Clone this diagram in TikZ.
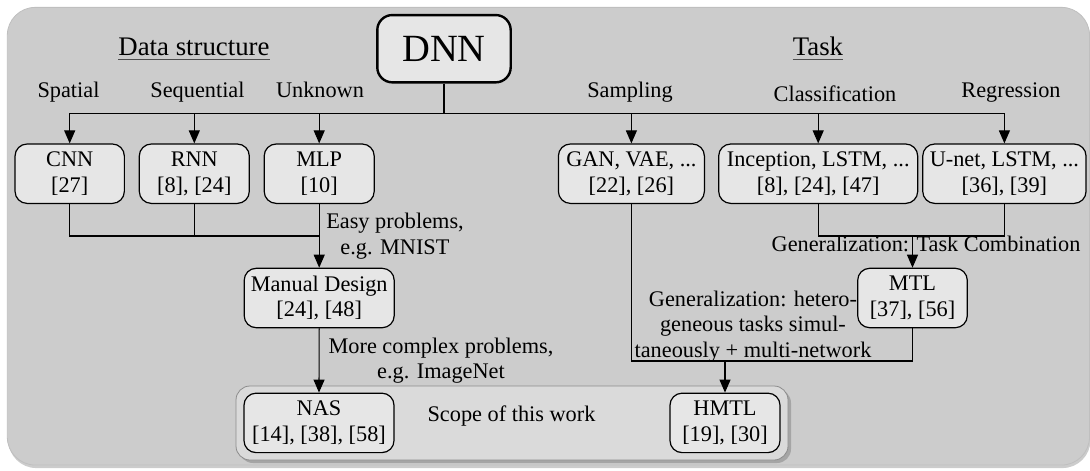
\documentclass[tikz,border=0pt]{standalone}
\usepackage{fontspec}
\setmainfont{Liberation Serif}
\usetikzlibrary{arrows.meta,shadows}
\definecolor{bggray}{HTML}{CCCCCC}
\definecolor{boxgray}{HTML}{E6E6E6}
\definecolor{scopegray}{HTML}{DADADA}
\begin{document}
\begin{tikzpicture}[x=1pt,y=-1pt,
  every node/.style={font=\fontsize{22.3}{25.6}\selectfont, inner sep=0pt},
  box/.style={draw, fill=boxgray, rounded corners=12pt, line width=1.2pt, align=center, minimum height=59.4pt},
  lbl/.style={anchor=base},
  head/.style={anchor=base, font=\fontsize{26.8}{30}\selectfont},
  wire/.style={line width=1.1pt},
  arr/.style={wire, -{Triangle[length=13pt,width=11pt]}},
  uline/.style={line width=1.3pt, black!70},
]
\useasboundingbox (0,0) rectangle (1090,471);

% background panels
\node[fill=bggray, draw=black!25, line width=0.8pt, rounded corners=28pt,
      minimum width=1082.2pt, minimum height=457.7pt,
      drop shadow={shadow xshift=1pt, shadow yshift=-3pt, opacity=0.4}] (bg) at (548.4,236.2) {};
\node[fill=scopegray, draw=black!45, line width=0.8pt, rounded corners=14pt,
      minimum width=552pt, minimum height=74pt,
      drop shadow={shadow xshift=3pt, shadow yshift=-3pt, opacity=0.5}] (scope) at (512,423) {};

% root
\node[draw, fill=boxgray, rounded corners=15pt, line width=2.4pt,
      minimum width=133.4pt, minimum height=67.3pt,
      font=\fontsize{38.5}{44}\selectfont] (dnn) at (444,48.7) {DNN};

% headings
\node[head] (ds) at (194,55) {Data structure};
\draw[uline] ([yshift=-4.3pt]ds.base west) -- ([yshift=-4.3pt]ds.base east);
\node[head] (task) at (818,55) {Task};
\draw[uline] ([yshift=-4.3pt]task.base west) -- ([yshift=-4.3pt]task.base east);

% categories
\node[lbl] (spatial) at (68.5,97.3) {Spatial};
\node[lbl] (sequential) at (197.5,97.3) {Sequential};
\node[lbl] (unknown) at (320,97.3) {Unknown};
\node[lbl] (sampling) at (630,97) {Sampling};
\node[lbl] (classif) at (835,101) {Classification};
\node[lbl] (regress) at (1011,97) {Regression};

% boxes
\node[box, minimum width=109.3pt] (cnn) at (69.7,173.7) {CNN\\{[27]}};
\node[box, minimum width=110pt] (rnn) at (194.3,173.7) {RNN\\{[8], [24]}};
\node[box, minimum width=110pt] (mlp) at (319.2,173.7) {MLP\\{[10]}};
\node[box, minimum width=146pt] (gan) at (631.4,173.7) {GAN, VAE, ...\\{[22], [26]}};
\node[box, minimum width=199pt] (incep) at (818.2,173.7) {Inception, LSTM, ...\\{[8], [24], [47]}};
\node[box, minimum width=163.3pt] (unet) at (1004.4,173.7) {U-net, LSTM, ...\\{[36], [39]}};
\node[box, minimum width=150pt] (manual) at (319.2,298) {Manual Design\\{[24], [48]}};
\node[box, minimum width=109.6pt] (mtl) at (912.5,298) {MTL\\{[37], [56]}};
\node[box, minimum width=150pt] (nas) at (319,422.9) {NAS\\{[14], [38], [58]}};
\node[box, minimum width=110pt] (hmtl) at (725,422.9) {HMTL\\{[19], [30]}};

% text labels
\node[align=center] (easy) at (395,236.2) {Easy problems,\\e.g. MNIST};
\node[align=center] (complex) at (441,360.8) {More complex problems,\\e.g. ImageNet};
\node[lbl] (taskcomb) at (926,251.7) {Generalization: Task Combination};
\node[align=center] (hetero) at (753,326.3) {Generalization: hetero-\\geneous tasks simul-\\taneously + multi-network};
\node[lbl] (scopetxt) at (511.5,421) {Scope of this work};

% connectors
\coordinate (bus) at (444,113.3);
\coordinate (j1) at (0,236);
\coordinate (j3) at (0,361);
\draw[wire] (dnn.south) -- (bus);
\draw[wire] (cnn.north |- bus) -- (unet.north |- bus);
\foreach \n in {cnn,rnn,mlp,gan,incep,unet} \draw[arr] (\n.north |- bus) -- (\n.north);

\draw[wire] (cnn.south) -- (cnn.south |- j1) -- (mlp.south |- j1);
\draw[wire] (rnn.south) -- (rnn.south |- j1);
\draw[arr] (mlp.south) -- (manual.north);
\draw[arr] (manual.south) -- (nas.north);

\draw[wire] (incep.south) -- (incep.south |- j1) -- (unet.south |- j1) -- (unet.south);
\draw[arr] (mtl.north |- j1) -- (mtl.north);

\draw[wire] (gan.south) -- (gan.south |- j3) -- (mtl.south |- j3) -- (mtl.south);
\draw[arr] (hmtl.north |- j3) -- (hmtl.north);
\end{tikzpicture}
\end{document}
